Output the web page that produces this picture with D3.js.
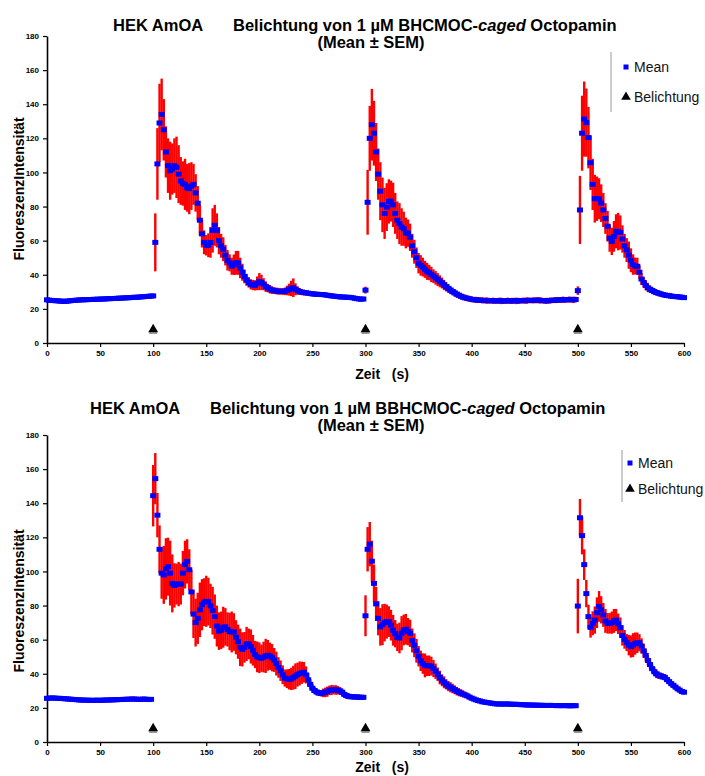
<!DOCTYPE html>
<html>
<head>
<meta charset="utf-8">
<script src="https://cdn.jsdelivr.net/npm/d3@7"></script>
<style>
  body { margin: 0; background: #fff; }
  svg { display: block; }
  text { font-family: "Liberation Sans", Arial, sans-serif; }
</style>
</head>
<body>
<svg id="chart" width="705" height="776"></svg>
<script>
// ---- data -------------------------------------------------------------
const xTicks = [0, 50, 100, 150, 200, 250, 300, 350, 400, 450, 500, 550, 600];
const yTicks = [0, 20, 40, 60, 80, 100, 120, 140, 160, 180];
const frameInterval = 2;            // seconds between recorded frames
const stimTimes = [100, 300, 500];  // light flashes (s)
const stimLevel = 8;

const titleA = ["HEK AmOA", "Belichtung von 1 µM BHCMOC-", "caged", " Octopamin"];
const titleB = ["HEK AmOA", "Belichtung von 1 µM BBHCMOC-", "caged", " Octopamin"];
const subTitle = "(Mean ± SEM)";
const yLabel = "FluoreszenzIntensität";
const xLabel = "Zeit\u00a0\u00a0\u00a0(s)";
const legendLabels = ["Mean", "Belichtung"];

// BHCMOC-caged octopamine, mean fluorescence per frame
const meanA = [
  25.3, 25.1, 25.0, 24.9, 24.8, 24.7, 24.6, 24.5, 24.4, 24.5,
  24.6, 24.8, 24.9, 25.0, 25.1, 25.2, 25.3, 25.3, 25.4, 25.4,
  25.5, 25.5, 25.6, 25.6, 25.7, 25.7, 25.8, 25.8, 25.9, 26.0,
  26.0, 26.1, 26.1, 26.2, 26.3, 26.3, 26.4, 26.5, 26.5, 26.6,
  26.7, 26.8, 26.8, 26.9, 27.0, 27.1, 27.2, 27.3, 27.4, 27.5,
  27.6, 59, 105, 129, 134, 125, 112, 104, 101, 102,
  104, 103, 99, 95, 93.5, 93, 91, 90.5, 92, 93,
  88, 82, 72, 64, 59, 57.3, 57.3, 59, 66, 69,
  66, 60, 57, 55, 51.5, 48.5, 47, 45, 45.9, 47,
  47, 44, 41.5, 39, 37, 35.5, 34.4, 34, 33.8, 35,
  36, 35.5, 34.5, 33, 32.2, 31.5, 31, 30.7, 30.5, 30.3,
  30.3, 30.2, 30.3, 30.8, 31.3, 32, 32.4, 31.5, 30.7, 30.2,
  29.8, 29.6, 29.4, 29.2, 29, 28.8, 28.7, 28.6, 28.5, 28.4,
  28.4, 28.2, 28, 27.8, 27.6, 27.5, 27.3, 27.2, 27, 27,
  26.9, 26.8, 26.8, 26.7, 26.5, 26.2, 26, 25.8, 25.7, 25.8,
  31, 82.5, 120, 128, 123, 112, 99, 89, 81, 76,
  79.7, 83, 83.2, 81, 76, 72, 70, 68, 67, 64.5,
  64.4, 62, 57, 53.5, 50, 46.8, 45.5, 44.5, 43.2, 42,
  41.3, 40.2, 39.2, 38.2, 37.2, 36.2, 35.2, 34, 33, 32,
  31, 30.2, 29.4, 28.6, 28, 27.4, 26.9, 26.5, 26.2, 25.9,
  25.6, 25.4, 25.3, 25.2, 25.1, 25, 24.9, 24.9, 24.8, 24.8,
  24.8, 24.7, 24.7, 24.8, 24.7, 24.6, 24.7, 24.8, 24.7, 24.7,
  24.8, 24.7, 24.7, 24.8, 24.9, 24.8, 24.9, 25, 24.9, 25,
  25, 25.1, 25, 24.9, 24.8, 24.7, 24.8, 24.9, 25, 25.1,
  25.2, 25.2, 25.3, 25.4, 25.3, 25.4, 25.5, 25.4, 25.3, 25.5,
  30.7, 78, 123, 131.3, 129.2, 120.4, 105.7, 93, 84.6, 84.6,
  84.6, 82, 78, 73, 68.5, 61.5, 59.6, 62.5, 65.5, 65.3,
  64.8, 61, 57, 54.5, 51.5, 48.5, 46, 45.1, 45, 41.5,
  37.5, 35.5, 33.8, 32.3, 31.5, 30.8, 30.1, 29.6, 29.2, 28.8,
  28.4, 28.1, 27.9, 27.7, 27.5, 27.3, 27.2, 27.1, 27, 26.8,
  26.6
];
const semA = [
  0.6, 0.7, 0.6, 0.5, 0.6, 0.7, 0.6, 0.6, 0.5, 0.6,
  0.6, 0.7, 0.6, 0.6, 0.5, 0.6, 0.7, 0.6, 0.6, 0.6,
  0.7, 0.6, 0.6, 0.7, 0.6, 0.6, 0.7, 0.6, 0.7, 0.6,
  0.6, 0.7, 0.7, 0.6, 0.7, 0.7, 0.6, 0.7, 0.7, 0.7,
  0.7, 0.7, 0.8, 0.8, 0.8, 0.9, 0.9, 1.0, 1.0, 1.1,
  1.2, 17, 21, 23, 21, 18, 15, 16, 17, 15,
  16, 18, 17, 14, 13, 15, 14, 15, 14, 12,
  11, 10, 9, 8, 7, 6, 7, 9, 13, 12,
  10, 8, 7, 7, 6, 6, 5, 5, 6, 7,
  7, 6, 5, 4, 3.5, 3, 3, 3, 3, 4,
  5, 4.5, 3.5, 3, 2.5, 2.5, 2.2, 2, 2, 2,
  2, 2, 2.2, 2.8, 3.5, 4.5, 5.5, 3.5, 2.5, 2,
  1.8, 1.7, 1.6, 1.5, 1.5, 1.4, 1.4, 1.3, 1.3, 1.2,
  1.2, 1.2, 1.1, 1.1, 1.1, 1.0, 1.0, 1.0, 1.0, 1.0,
  1.0, 1.0, 0.9, 0.9, 0.9, 0.9, 0.9, 0.9, 0.8, 0.8,
  2, 19, 19, 21, 19, 17, 15, 17, 16, 15,
  14, 13, 12, 13, 12, 11, 12, 11, 10, 9,
  8, 8, 7, 7, 6, 6, 6, 5.5, 5, 5,
  4.5, 4.5, 4, 4, 3.8, 3.5, 3.2, 3, 2.8, 2.6,
  2.4, 2.2, 2.1, 2, 2, 1.9, 1.8, 1.8, 1.7, 1.7,
  1.7, 1.6, 1.8, 1.7, 1.6, 1.8, 1.7, 1.9, 1.7, 1.6,
  1.8, 1.7, 1.6, 1.8, 1.9, 1.7, 1.6, 1.8, 1.7, 1.8,
  1.7, 1.9, 1.8, 1.6, 1.7, 1.8, 1.9, 1.7, 1.6, 1.8,
  1.7, 1.8, 1.9, 1.7, 1.6, 1.8, 1.7, 1.8, 1.6, 1.7,
  1.8, 1.6, 1.7, 1.8, 1.7, 1.6, 1.8, 1.7, 1.9, 1.6,
  2.5, 20, 22, 22, 20, 18, 16, 15, 14, 13,
  12, 11, 10, 9, 9, 8, 8, 9, 10, 11,
  10, 8, 7, 7, 8, 7, 6, 5, 5, 4,
  3.5, 3, 2.8, 2.5, 2.2, 2, 2, 1.8, 1.8, 1.7,
  1.6, 1.6, 1.5, 1.5, 1.5, 1.4, 1.4, 1.4, 1.4, 1.4,
  1.4
];

// BBHCMOC-caged octopamine, mean fluorescence per frame
const meanB = [
  25.6, 25.7, 25.8, 25.8, 25.7, 25.6, 25.6, 25.5, 25.4, 25.3,
  25.2, 25.1, 25.0, 24.9, 24.8, 24.7, 24.6, 24.6, 24.5, 24.5,
  24.5, 24.4, 24.4, 24.5, 24.5, 24.4, 24.5, 24.6, 24.6, 24.6,
  24.7, 24.7, 24.8, 24.8, 24.9, 24.9, 25.0, 25.0, 25.1, 25.1,
  25.2, 25.2, 25.1, 25.0, 25.0, 25.1, 25.2, 25.0, 24.9, 25.0,
  144.4, 154.4, 133, 113, 99, 98, 101.5, 102.8, 99, 93,
  91.8, 92.6, 92.6, 92.6, 99, 104, 105.9, 101, 88, 75,
  70, 72.5, 77.5, 80.5, 82, 82.5, 82.3, 79.8, 77, 73.5,
  68, 65, 65.5, 67.3, 67.5, 66, 64.8, 64.5, 64.5, 61.4,
  58.8, 55.5, 54.3, 55.5, 57.5, 57.5, 56, 53.8, 51.3, 49.9,
  49.4, 49.1, 49.8, 50.5, 50.8, 50.3, 49.4, 48.1, 46, 43.7,
  41.8, 39.4, 37.5, 37.1, 36.8, 37, 37.7, 38.6, 39.5, 40.2,
  40.6, 40.9, 39.3, 36.5, 33.8, 31.5, 30.2, 29.3, 28.8, 28.5,
  28.8, 29.1, 29.5, 30.3, 30.5, 30.6, 30.5, 30.3, 29.9, 29.2,
  27.9, 27.2, 26.8, 26.6, 26.5, 26.4, 26.4, 26.3, 26.2, 26.2,
  74, 113, 116, 106, 93, 81, 72.5, 67.5, 68.8, 70,
  70.6, 70.6, 68.5, 65.5, 63.5, 61.3, 61, 63.8, 65.7, 66.1,
  64.7, 63.7, 59.5, 56.7, 53.5, 50.3, 47.6, 46, 44.9, 44.7,
  44.7, 44.5, 43.1, 41.5, 39.7, 37.8, 36.2, 35, 33.8, 32.8,
  32.1, 31.4, 30.6, 29.8, 29.2, 28.7, 28.1, 27.6, 27, 26.3,
  25.7, 25.2, 24.7, 24.3, 24, 23.6, 23.4, 23.2, 23, 22.8,
  22.6, 22.4, 22.3, 22.3, 22.3, 22.2, 22.3, 22.3, 22.2, 22.1,
  22.1, 22.1, 22.0, 21.9, 21.9, 21.8, 21.7, 21.7, 21.7, 21.6,
  21.6, 21.6, 21.5, 21.5, 21.5, 21.4, 21.4, 21.5, 21.4, 21.4,
  21.3, 21.4, 21.3, 21.3, 21.4, 21.3, 21.2, 21.3, 21.3, 21.3,
  79.7, 131.5, 121, 104, 87, 73.5, 67.2, 69.6, 71.5, 75.8,
  79.5, 77.5, 74.5, 71, 69.6, 69.6, 70, 71, 71.5, 69.3,
  67, 62.5, 60.2, 58.3, 56.8, 56, 56.8, 57.7, 58.2, 58.2,
  56.3, 53.5, 50.8, 47.8, 45.4, 43, 41.2, 39.9, 39.2, 38.7,
  38.3, 37.9, 36.6, 35.4, 34.2, 33.2, 32.2, 31.2, 30.4, 29.6,
  29.2
];
const semB = [
  0.8, 0.9, 0.8, 0.7, 0.8, 0.9, 0.8, 0.8, 0.7, 0.8,
  0.9, 0.8, 0.7, 0.8, 0.9, 0.8, 0.8, 0.9, 0.8, 0.7,
  0.8, 0.9, 0.8, 0.8, 0.7, 0.8, 0.9, 0.8, 0.8, 0.9,
  0.8, 0.7, 0.8, 0.9, 0.8, 0.8, 0.9, 0.8, 0.8, 0.9,
  0.9, 0.8, 0.9, 1.0, 0.9, 0.9, 1.0, 1.0, 1.1, 1.2,
  18, 15, 13, 14, 15, 17, 18, 17, 19, 17,
  13, 12, 13, 12, 13, 14, 13, 12, 13, 14,
  14, 15, 16, 15, 14, 15, 14, 13, 14, 13,
  12, 11, 11, 12, 11, 10, 11, 12, 11, 10,
  10, 11, 10, 9, 10, 9, 10, 9, 8, 9,
  9, 8, 9, 10, 9, 8, 8, 7, 7, 6,
  6, 5.5, 5, 5.5, 6, 6.5, 7, 7.5, 7, 7,
  6.5, 6, 5, 4, 3, 2.5, 2, 2, 1.8, 1.8,
  2.5, 2.8, 3, 2.8, 3, 2.7, 2.8, 2.5, 2.3, 2.2,
  2, 1.8, 1.7, 1.6, 1.6, 1.5, 1.5, 1.4, 1.4, 1.4,
  12, 13, 13, 12, 11, 10, 10, 11, 12, 11,
  10, 9, 9, 9, 8, 8, 9, 10, 9, 9,
  8, 8, 7, 7, 7, 6, 6, 6, 7, 6,
  6, 5.5, 5, 4.5, 4, 4, 3.5, 3.5, 3, 3,
  3, 2.8, 2.6, 2.5, 2.4, 2.2, 2, 1.8, 1.6, 1.5,
  1.4, 1.3, 1.2, 1.2, 1.1, 1.1, 1.0, 1.0, 1.0, 1.0,
  0.9, 0.8, 0.9, 0.9, 0.8, 0.9, 0.8, 0.8, 0.9, 0.8,
  0.8, 0.9, 0.8, 0.8, 0.9, 0.8, 0.9, 0.8, 0.8, 0.9,
  0.8, 0.8, 0.9, 0.8, 0.8, 0.9, 0.8, 0.8, 0.9, 0.8,
  0.9, 0.8, 0.8, 0.9, 0.8, 0.8, 0.9, 0.8, 0.9, 0.9,
  16, 11, 11, 9, 8, 7, 6, 7, 8, 9,
  9, 8, 7, 7, 6, 6, 6.5, 7, 6.5, 6,
  6, 6, 5.5, 5, 6, 6.5, 7, 6.5, 6, 5,
  4.5, 4, 3.5, 3, 3, 2.5, 2.5, 2.5, 2.2, 2,
  2, 2, 1.8, 1.8, 1.6, 1.6, 1.5, 1.5, 1.4, 1.4,
  1.3
];

// ---- drawing ----------------------------------------------------------
const svg = d3.select("#chart");
const x = d3.scaleLinear().domain([0, 600]).range([47, 684]);

function drawPanel(cfg) {
  const y = d3.scaleLinear().domain([0, 180]).range([cfg.bottom, cfg.top]);
  const g = svg.append("g");

  // titles
  const t1 = g.append("text").attr("y", cfg.titleY)
    .attr("font-size", 16.5).attr("font-weight", "bold").attr("fill", "#000");
  t1.append("tspan").attr("x", cfg.titleX1).text(cfg.title[0]);
  t1.append("tspan").attr("x", cfg.titleX2).text(cfg.title[1]);
  t1.append("tspan").attr("font-style", "italic").text(cfg.title[2]);
  t1.append("tspan").text(cfg.title[3]);
  g.append("text").attr("x", 371).attr("y", cfg.titleY + 17)
    .attr("text-anchor", "middle").attr("font-size", 16.5).attr("font-weight", "bold")
    .text(subTitle);

  // axes
  const yAxis = g.append("g").attr("transform", "translate(47,0)")
    .call(d3.axisLeft(y).tickValues(yTicks).tickSize(4).tickSizeOuter(0).tickPadding(4));
  const xAxis = g.append("g").attr("transform", `translate(0,${cfg.bottom})`)
    .call(d3.axisBottom(x).tickValues(xTicks).tickSize(4).tickSizeOuter(0).tickPadding(3));
  [yAxis, xAxis].forEach(a => {
    a.select(".domain").attr("stroke", "#000").attr("stroke-width", 1.6);
    a.selectAll(".tick line").attr("stroke", "#000").attr("stroke-width", 1.2);
    a.selectAll(".tick text").attr("font-size", 8).attr("font-weight", "bold")
      .attr("fill", "#000").style("font-family", "'Liberation Sans', Arial, sans-serif");
  });

  g.append("text")
    .attr("transform", `translate(23.5,${cfg.yLabelY}) rotate(-90)`)
    .attr("text-anchor", "middle").attr("font-size", 14).attr("font-weight", "bold")
    .text(yLabel);
  g.append("text").attr("x", 382).attr("y", cfg.xLabelY)
    .attr("text-anchor", "middle").attr("font-size", 14).attr("font-weight", "bold")
    .text(xLabel);

  // mean ± SEM
  const pts = cfg.mean.map((m, i) => ({ t: i * frameInterval, m: m, s: cfg.sem[i] }));
  g.append("g").selectAll("line").data(pts).join("line")
    .attr("x1", d => x(d.t)).attr("x2", d => x(d.t))
    .attr("y1", d => y(d.m - d.s)).attr("y2", d => y(d.m + d.s))
    .attr("stroke", "#ff0000").attr("stroke-width", 2.4);
  g.append("g").selectAll("rect").data(pts).join("rect")
    .attr("x", d => x(d.t) - 3).attr("y", d => y(d.m) - 2.5)
    .attr("width", 6).attr("height", 5).attr("fill", "#0000ff");

  // light flashes
  const tri = d3.symbol(d3.symbolTriangle, 42);
  const stim = g.append("g").selectAll("g").data(stimTimes).join("g")
    .attr("transform", d => `translate(${x(d)},${y(stimLevel)})`);
  stim.append("rect").attr("x", -4).attr("y", 3).attr("width", 8).attr("height", 1.5).attr("fill", "#888");
  stim.append("path").attr("d", tri).attr("fill", "#000");

  // legend
  const lg = g.append("g");
  lg.append("line").attr("x1", cfg.legX).attr("x2", cfg.legX)
    .attr("y1", cfg.legY0).attr("y2", cfg.legY1).attr("stroke", "#999").attr("stroke-width", 1);
  lg.append("rect").attr("x", cfg.legMarkX - 2.5).attr("y", cfg.legRow1 - 2.5)
    .attr("width", 5).attr("height", 5).attr("fill", "#0000ff");
  lg.append("path").attr("d", d3.symbol(d3.symbolTriangle, 40)())
    .attr("transform", `translate(${cfg.legMarkX},${cfg.legRow2})`).attr("fill", "#000");
  lg.append("text").attr("x", cfg.legMarkX + 8).attr("y", cfg.legRow1 + 5)
    .attr("font-size", 14).attr("fill", "#111").text(legendLabels[0]);
  lg.append("text").attr("x", cfg.legMarkX + 8).attr("y", cfg.legRow2 + 5)
    .attr("font-size", 14).attr("fill", "#111").text(legendLabels[1]);
}

drawPanel({
  mean: meanA, sem: semA, title: titleA,
  top: 36, bottom: 343, titleY: 31, titleX1: 113, titleX2: 233,
  yLabelY: 189, xLabelY: 379,
  legX: 611, legY0: 52, legY1: 112, legMarkX: 626, legRow1: 67, legRow2: 97
});
drawPanel({
  mean: meanB, sem: semB, title: titleB,
  top: 435, bottom: 742, titleY: 414, titleX1: 90, titleX2: 210,
  yLabelY: 601, xLabelY: 772,
  legX: 622, legY0: 450, legY1: 502, legMarkX: 630, legRow1: 463, legRow2: 489
});
</script>
</body>
</html>
